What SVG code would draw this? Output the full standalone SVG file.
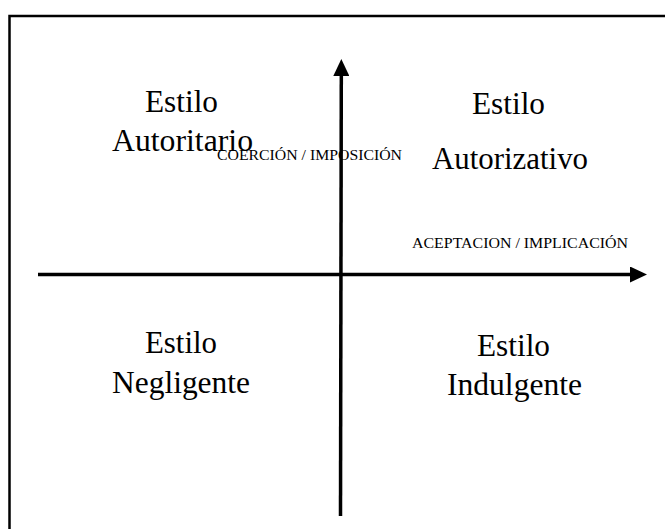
<svg xmlns="http://www.w3.org/2000/svg" width="665" height="529" viewBox="0 0 665 529">
<style>
text{font-family:'Liberation Serif',Tinos,'Times New Roman',Times,serif;fill:#000;text-anchor:middle}
.big{font-size:31px}
.small{font-size:15px}
.axis{stroke:#000;stroke-width:3.5;fill:none}
</style>
<defs>
<marker id="ah" markerUnits="userSpaceOnUse" markerWidth="17" markerHeight="16" refX="0" refY="8" orient="auto">
<path d="M0,0 L17,8 L0,16 Z" fill="#000"/>
</marker>
</defs>
<rect x="0" y="0" width="665" height="529" fill="#fff"/>
<rect id="frame" x="9.5" y="16" width="700" height="600" fill="none" stroke="#000" stroke-width="2.5"/>
<g id="connectors">
<line class="axis" x1="340.5" y1="516" x2="341.3" y2="76" marker-end="url(#ah)"/>
<line class="axis" x1="38" y1="274.5" x2="630" y2="274.5" marker-end="url(#ah)"/>
</g>
<g id="axis-labels">
<text class="small" x="309.5" y="160" textLength="185" lengthAdjust="spacingAndGlyphs">COERCIÓN / IMPOSICIÓN</text>
<text class="small" x="520" y="247.5" textLength="216" lengthAdjust="spacingAndGlyphs">ACEPTACION / IMPLICACIÓN</text>
</g>
<g id="autoritario">
<text class="big" x="181.5" y="112" textLength="73" lengthAdjust="spacingAndGlyphs">Estilo</text>
<text class="big" x="182.5" y="151" textLength="141" lengthAdjust="spacingAndGlyphs">Autoritario</text>
</g>
<g id="autorizativo">
<text class="big" x="508.5" y="113.5" textLength="73" lengthAdjust="spacingAndGlyphs">Estilo</text>
<text class="big" x="510" y="168.5" textLength="156" lengthAdjust="spacingAndGlyphs">Autorizativo</text>
</g>
<g id="negligente">
<text class="big" x="181" y="352.5" textLength="72" lengthAdjust="spacingAndGlyphs">Estilo</text>
<text class="big" x="181" y="392.5" textLength="138" lengthAdjust="spacingAndGlyphs">Negligente</text>
</g>
<g id="indulgente">
<text class="big" x="513.5" y="355.5" textLength="73" lengthAdjust="spacingAndGlyphs">Estilo</text>
<text class="big" x="514.5" y="394.5" textLength="135" lengthAdjust="spacingAndGlyphs">Indulgente</text>
</g>
</svg>
